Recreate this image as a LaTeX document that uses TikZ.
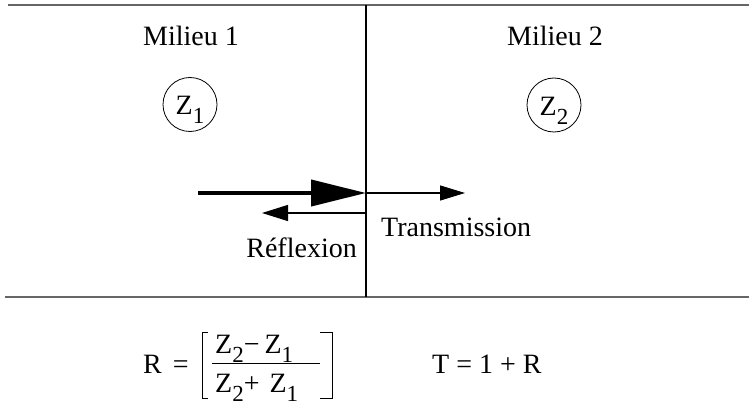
\documentclass[tikz,border=0pt]{standalone}
\usepackage{fontspec}
\setmainfont{Liberation Serif}
\usetikzlibrary{arrows.meta}
\newcommand{\zsub}[1]{\raisebox{-9pt}{\fontsize{23}{23}\selectfont #1}}

\begin{document}
\begin{tikzpicture}[x=1pt,y=-1pt]
  \tikzstyle{txt}=[inner sep=0pt,font=\fontsize{28}{32}\selectfont]
  \tikzstyle{imp}=[draw,circle,line width=0.8pt,minimum size=54pt,inner sep=0pt,text depth=0pt,font=\fontsize{28}{32}\selectfont]
  \tikzstyle{rule}=[line width=1.2pt,black!60]
  \useasboundingbox (0,0) rectangle (749,406);
  % cadre et interface
  \draw[rule] (8,5) -- (749,5);
  \draw[rule] (5,297) -- (749,297);
  \coordinate (itop) at (366,5);
  \coordinate (ibot) at (366,297);
  \draw[line width=2.5pt] (itop) -- (ibot);
  % milieux
  \node[txt,anchor=base] (mil1) at (191,46) {Milieu 1};
  \node[txt,anchor=base] (mil2) at (555,46) {Milieu 2};
  \node[imp] (z1) at (190,104.5) {\raisebox{-2pt}{Z\zsub{1}}};
  \node[imp] (z2) at (554,105) {\raisebox{-2pt}{Z\zsub{2}}};
  % ondes
  \coordinate (src) at (198,193);
  \coordinate (hit) at (366,193);
  \coordinate (trans) at (465,193);
  \coordinate (rstart) at (366,213);
  \coordinate (rend) at (262,213);
  \draw[line width=4pt,-{Triangle[length=55pt,width=26pt]}] (src) -- (hit);
  \draw[line width=1.3pt,-{Triangle[length=25pt,width=15pt]}] (hit) -- (trans);
  \draw[line width=1.3pt,-{Triangle[length=26pt,width=16pt]}] (rstart) -- (rend);
  \node[txt,anchor=base west] (tlab) at (381,236) {Transmission};
  \node[txt,anchor=base east] (rlab) at (357,257) {Réflexion};
  % formules
  \node[txt,anchor=base west] (rdef) at (143,373) {R\hspace{11pt}=};
  \node[txt,anchor=base west] (num) at (215,353) {Z\zsub{2}−\hspace{5pt}Z\zsub{1}};
  \node[txt,anchor=base west] (den) at (215,392) {Z\zsub{2}+\hspace{10pt}Z\zsub{1}};
  \draw[line width=1pt] (212,363) -- (320,363);
  \draw[line width=1pt] (208,332) -- (202,332) -- (202,398) -- (208,398);
  \draw[line width=1pt] (320,332) -- (332,332) -- (332,398) -- (320,398);
  \node[txt,anchor=base west] (tdef) at (432,373) {T = 1 + R};
\end{tikzpicture}
\end{document}
